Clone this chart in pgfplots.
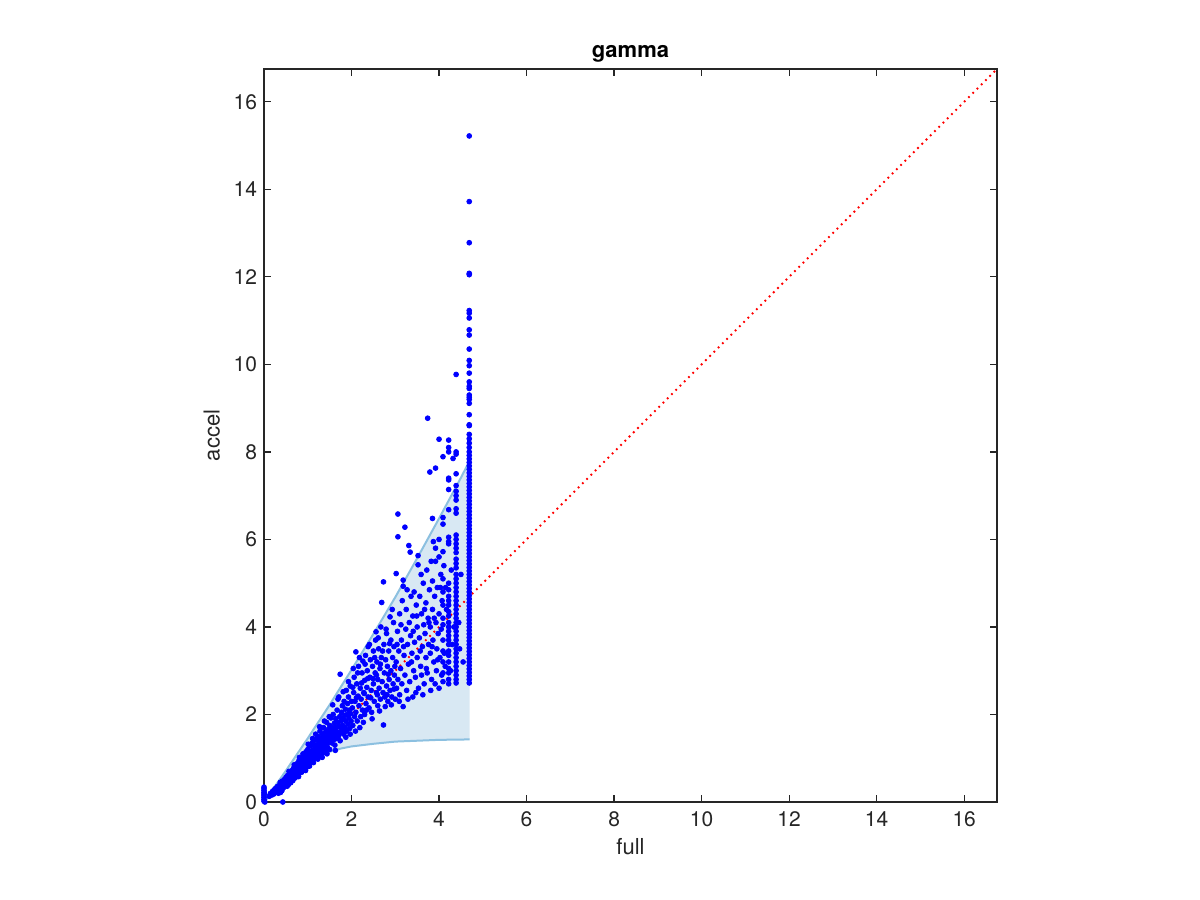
\documentclass[border=0pt]{standalone}
\usepackage{fontspec}
\setmainfont{TeX Gyre Heros}
\usepackage{pgfplots}
\pgfplotsset{compat=1.18}
\definecolor{axgray}{RGB}{38,38,38}
\definecolor{shade}{RGB}{216,232,243}
\definecolor{edge}{RGB}{140,192,224}
\begin{document}
\begin{tikzpicture}
\path[use as bounding box] (0,0) rectangle (600pt,450pt);
\begin{axis}[
  at={(132pt,49pt)}, anchor=south west, scale only axis,
  width=366.5pt, height=366.5pt,
  xmin=0, xmax=16.75, ymin=0, ymax=16.75,
  xtick={0,2,...,16}, ytick={0,2,...,16},
  tick align=inside, major tick length=3.5pt,
  axis line style={axgray, line width=0.6pt},
  tick style={axgray, line width=0.6pt},
  ticklabel style={font=\fontsize{10.5}{12}\selectfont, text=axgray},
  xticklabel style={yshift=-1.5pt},
  /pgf/number format/assume math mode=true,
  title={gamma}, title style={font=\fontsize{11}{13}\selectfont\bfseries, yshift=-6pt},
  xlabel={full}, ylabel={accel},
  label style={font=\fontsize{11}{13}\selectfont, text=axgray},
  xlabel style={yshift=1.5pt},
]
% shaded band
\addplot[fill=shade, draw=none] coordinates {
 (0,0) (0.5,0.714) (1,1.455) (1.5,2.22) (2,3.02) (2.5,3.84) (3,4.68) (3.5,5.57) (4,6.48) (4.5,7.41) (4.7,7.8)
 (4.7,1.43) (4,1.42) (3.5,1.40) (3,1.38) (2.5,1.33) (2,1.27) (1.75,1.22) (1.5,1.15) (1.25,1.06) (1,0.93) (0.75,0.74) (0.5,0.5) (0.25,0.25) (0,0)
} -- cycle;
\addplot[edge, line width=1pt] coordinates {
 (0,0) (0.5,0.714) (1,1.455) (1.5,2.22) (2,3.02) (2.5,3.84) (3,4.68) (3.5,5.57) (4,6.48) (4.5,7.41) (4.7,7.8)};
\addplot[edge, line width=1pt] coordinates {
 (0,0) (0.25,0.25) (0.5,0.5) (0.75,0.74) (1,0.93) (1.25,1.06) (1.5,1.15) (1.75,1.22) (2,1.27) (2.5,1.33) (3,1.38) (3.5,1.40) (4,1.42) (4.7,1.43)};
% scatter
\addplot[only marks, mark=*, mark size=1.2pt, color=blue, fill=blue] coordinates {
 (0,0.02) (0,0.06) (0,0.1) (0,0.14) (0,0.18) (0,0.22) (0,0.26) (0,0.3) (0,0.34) (0.01,0.2) (0.43,0.0) (0.02,0.0)
 (0.12,0.13) (0.15,0.2) (0.18,0.16) (0.2,0.25) (0.22,0.18) (0.25,0.3) (0.27,0.22) (0.3,0.27) (0.3,0.35) (0.32,0.3)
 (0.33,0.2) (0.35,0.38) (0.36,0.3) (0.38,0.34) (0.38,0.22) (0.4,0.42) (0.4,0.3) (0.42,0.36) (0.42,0.48) (0.44,0.4)
 (0.45,0.33) (0.46,0.45) (0.47,0.52) (0.48,0.38) (0.5,0.46) (0.5,0.56) (0.52,0.42) (0.52,0.5) (0.53,0.6) (0.55,0.48)
 (0.55,0.55) (0.56,0.4) (0.58,0.62) (0.58,0.52) (0.6,0.58) (0.6,0.47) (0.6,0.68) (0.62,0.55)
 (0.63,0.62) (0.64,0.72) (0.65,0.52) (0.66,0.66) (0.67,0.58) (0.68,0.78) (0.7,0.64) (0.7,0.7) (0.71,0.55) (0.72,0.82)
 (0.73,0.68) (0.74,0.75) (0.75,0.62) (0.76,0.88) (0.77,0.72) (0.78,0.8) (0.79,0.66) (0.8,0.95) (0.8,0.75) (0.82,0.85)
 (0.83,0.7) (0.84,0.92) (0.85,0.8) (0.86,1.0) (0.87,0.76) (0.88,0.88) (0.9,0.95) (0.9,0.82) (0.91,1.08) (0.92,0.74)
 (0.93,0.9) (0.94,1.0) (0.95,0.85) (0.96,1.15) (0.97,0.95) (0.98,0.8) (0.99,1.05) (1.0,0.9) (1.0,1.2) (1.02,1.0)
 (1.03,0.86) (1.04,1.1) (1.05,1.28) (1.06,0.95) (1.07,1.05) (1.08,1.15) (1.09,0.92) (1.1,1.35) (1.1,1.0) (1.12,1.2)
 (1.13,1.08) (1.14,0.98) (1.15,1.3) (1.16,1.12) (1.17,1.42) (1.18,1.05) (1.19,1.22) (1.2,1.0)
 (1.21,1.15) (1.22,1.32) (1.23,1.5) (1.24,1.08) (1.25,1.25) (1.26,1.4) (1.27,1.18) (1.28,1.62) (1.29,1.3) (1.3,1.05)
 (1.31,1.45) (1.32,1.2) (1.33,1.55) (1.34,1.35) (1.35,1.12) (1.36,1.7) (1.37,1.28) (1.38,1.48) (1.39,1.4) (1.4,1.18)
 (1.41,1.6) (1.42,1.32) (1.43,1.82) (1.44,1.5) (1.45,1.25) (1.46,1.42) (1.47,1.66) (1.48,1.36) (1.49,1.55) (1.5,1.2)
 (1.5,1.75) (1.52,1.45) (1.53,1.92) (1.54,1.6) (1.55,1.35) (1.56,1.7) (1.57,1.5) (1.58,2.0) (1.59,1.42) (1.6,1.62)
 (1.61,1.8) (1.62,1.3) (1.63,1.55) (1.64,1.9) (1.65,1.7) (1.66,1.45) (1.67,2.1) (1.68,1.6) (1.69,1.82) (1.7,1.5)
 (1.71,2.4) (1.72,1.72) (1.73,1.95) (1.74,2.92) (1.75,1.58) (1.76,1.85) (1.77,2.05) (1.78,1.65) (1.79,2.2) (1.8,1.75)
 (1.81,1.9) (1.82,1.55) (1.83,2.3) (1.84,1.98) (1.85,1.7) (1.86,2.12) (1.87,1.85) (1.88,2.55) (1.89,1.62) (1.9,2.0)
 (1.91,2.25) (1.92,1.78) (1.93,2.4) (1.94,1.92) (1.95,2.1) (1.96,1.68) (1.97,2.65) (1.98,2.02) (1.99,1.85) (2.0,2.3)
 (2.02,2.15) (2.03,1.75) (2.05,2.5) (2.06,2.85) (2.07,1.95) (2.08,2.3) (2.1,3.43) (2.1,2.05) (2.12,2.7) (2.13,1.85)
 (2.15,2.42) (2.16,3.1) (2.17,2.2) (2.18,3.3) (2.2,2.6) (2.21,1.95) (2.22,2.35) (2.24,2.95) (2.25,2.1) (2.26,3.22)
 (2.28,2.5) (2.3,2.78) (2.3,2.0) (2.32,3.35) (2.33,2.25) (2.35,2.62) (2.36,3.0) (2.38,3.55) (2.38,2.4) (2.4,2.15)
 (2.42,2.85) (2.43,3.25) (2.45,2.55) (2.46,2.05) (2.48,3.1) (2.5,2.7) (2.5,3.45) (2.52,2.3) (2.54,2.95) (2.55,3.7)
 (2.56,3.89) (2.57,2.5) (2.58,3.2) (2.6,2.2) (2.6,2.8) (2.62,3.5) (2.63,2.6) (2.65,3.05) (2.66,2.35) (2.67,4.0)
 (2.68,3.3) (2.69,4.56) (2.7,2.75) (2.72,2.5) (2.73,1.76) (2.73,5.03) (2.74,3.6) (2.75,2.95) (2.76,2.4) (2.78,3.25)
 (2.8,2.65) (2.8,3.85) (2.82,3.1) (2.83,2.3) (2.85,3.45) (2.86,2.8) (2.88,4.23) (2.88,2.55) (2.9,3.7) (2.9,3.0)
 (2.92,2.4) (2.94,3.3) (2.95,2.7) (2.96,4.1) (2.97,3.55) (2.98,2.9) (3.0,2.35)
 (3.02,5.22) (3.02,3.2) (3.03,2.6) (3.05,3.9) (3.06,6.58) (3.06,6.06) (3.06,2.8) (3.08,3.45) (3.1,4.3) (3.1,2.45)
 (3.12,3.05) (3.14,3.7) (3.15,2.7) (3.16,4.6) (3.18,5.07) (3.18,4.93) (3.18,2.18) (3.2,3.35) (3.22,6.28) (3.22,2.9)
 (3.24,3.95) (3.25,4.4) (3.26,2.55) (3.28,3.6) (3.3,3.15) (3.31,5.86) (3.32,4.1) (3.33,2.75) (3.34,5.71) (3.35,3.8)
 (3.36,4.7) (3.38,3.4) (3.4,2.4) (3.4,4.25) (3.42,3.0) (3.43,4.8) (3.44,3.65) (3.46,2.85) (3.48,4.5) (3.5,3.3)
 (3.5,4.0) (3.52,5.63) (3.52,5.42) (3.53,2.6) (3.55,3.75) (3.56,4.7) (3.58,3.1) (3.6,4.3) (3.6,2.9) (3.62,3.55)
 (3.64,5.0) (3.65,4.05) (3.66,2.7) (3.68,3.85) (3.7,4.55) (3.7,3.3) (3.72,5.3) (3.73,2.95) (3.74,8.77) (3.75,4.2)
 (3.76,3.6) (3.78,4.85) (3.79,7.54) (3.8,3.4) (3.8,4.0) (3.82,5.5) (3.83,2.8) (3.85,6.48) (3.85,5.05) (3.85,4.4)
 (3.86,3.7) (3.87,5.95) (3.88,3.2) (3.9,4.7) (3.92,7.63) (3.92,5.5) (3.92,5.8) (3.93,4.1) (3.94,3.0) (3.95,3.5)
 (3.96,4.9) (3.98,3.85) (4.0,8.29) (4.0,6.0) (4.0,5.6) (4.0,4.3) (4.0,2.6) (4.02,3.3) (4.04,5.2) (4.05,3.95) (4.07,4.6)
 (0.37,0.45) (0.41,0.26) (0.57,0.7) (0.61,0.44) (0.69,0.85) (0.74,0.58) (0.81,1.02) (0.86,0.68) (0.89,1.1) (0.95,0.72)
 (1.01,1.32) (1.04,0.82) (1.11,1.45) (1.13,0.9) (1.18,1.55) (1.23,0.98) (1.27,1.72) (1.33,1.02) (1.38,1.85) (1.44,1.1)
 (1.49,1.95) (0.53,0.36) (0.66,0.49) (0.79,0.58)
 (1.57,2.22) (1.63,1.18) (1.69,2.35) (1.74,1.4) (1.81,2.52) (1.87,1.48) (1.93,2.75) (1.97,1.55) (2.04,3.05) (2.09,1.62)
 (2.14,2.95) (2.19,1.7) (2.23,2.72) (2.27,1.82) (2.31,3.15) (2.37,2.82) (2.41,3.6) (2.44,2.38) (2.47,1.9) (2.53,3.3)
 (2.57,2.9) (2.61,3.75) (2.64,2.08) (2.71,3.45) (2.77,2.18) (2.79,3.95) (2.84,2.92) (2.87,3.62) (2.91,2.22) (2.93,4.4)
 (2.99,3.1) (2.03,2.62) (2.11,2.38) (2.29,2.48) (2.34,2.1) (2.49,2.82) (2.59,2.45) (2.66,3.15) (2.81,2.45) (2.97,2.58)
 (3.04,3.6) (3.09,2.3) (3.13,4.05) (3.19,3.55) (3.27,4.85) (3.29,2.35) (3.37,3.2) (3.41,3.9) (3.47,2.5) (3.49,4.25)
 (3.57,3.45) (3.59,5.2) (3.63,2.45) (3.67,4.4) (3.71,3.05) (3.77,4.1) (3.81,2.55) (3.84,3.55) (3.89,4.2) (3.91,2.7)
 (3.97,3.25) (4.03,4.9) (4.06,2.9) (4.11,5.4) (4.14,3.1) (4.17,4.4) (4.26,3.0) (4.34,4.0) (4.47,3.5)
 (4.09,7.89) (4.09,6.5) (4.09,6.35) (4.09,5.72) (4.09,5.1) (4.09,4.8) (4.09,4.5) (4.09,4.2) (4.09,4.05) (4.09,3.7)
 (4.09,3.45) (4.09,3.2) (4.09,2.95) (4.09,2.75)
 (4.22,8.27) (4.22,8.1) (4.22,8.0) (4.22,7.4) (4.22,7.36) (4.22,7.14) (4.22,6.68) (4.22,6.05) (4.22,5.95) (4.22,5.9)
 (4.22,5.0) (4.22,4.85) (4.22,4.7) (4.22,4.6) (4.22,4.5) (4.22,4.35) (4.22,4.25) (4.22,4.1) (4.22,4.0) (4.22,3.9)
 (4.22,3.8) (4.22,3.7) (4.22,3.6) (4.22,3.45) (4.22,3.35) (4.22,3.2) (4.22,3.05) (4.22,2.95) (4.22,2.8) (4.22,2.7)
 (4.39,9.77) (4.39,8.0) (4.39,7.95) (4.39,7.5) (4.39,7.23) (4.39,7.1) (4.39,7.0) (4.39,6.9) (4.39,6.7) (4.39,6.6)
 (4.39,6.1) (4.39,6.0) (4.39,5.9) (4.39,5.8) (4.39,5.7) (4.39,5.55) (4.39,5.45) (4.39,5.35) (4.39,5.2) (4.39,5.1)
 (4.39,5.0) (4.39,4.9) (4.39,4.8) (4.39,4.7) (4.39,4.6) (4.39,4.5) (4.39,4.4) (4.39,4.3) (4.39,4.2) (4.39,4.1)
 (4.39,4.0) (4.39,3.9) (4.39,3.8) (4.39,3.7) (4.39,3.6) (4.39,3.5) (4.39,3.4) (4.39,3.3) (4.39,3.2) (4.39,3.1)
 (4.39,3.0) (4.39,2.9) (4.39,2.8) (4.39,2.72)
 (4.15,4.9) (4.28,5.3) (4.3,3.6) (4.45,4.1) (4.5,5.2) (4.55,3.2) (4.32,7.85) (4.12,3.4)
 (4.69,15.22) (4.69,13.72) (4.69,12.78) (4.69,12.08) (4.69,12.05) (4.69,11.23) (4.69,11.17) (4.69,11.06) (4.69,10.79)
 (4.69,10.67) (4.69,10.35) (4.69,10.09) (4.69,9.97) (4.69,9.8) (4.69,9.6) (4.69,9.5) (4.69,9.45) (4.69,9.3) (4.69,9.25)
 (4.69,9.2) (4.69,9.11) (4.69,8.85) (4.69,8.62) (4.69,8.6) (4.69,8.4) (4.69,8.3) (4.69,8.2) (4.69,8.1) (4.69,8.0)
 (4.69,7.92) (4.69,7.84) (4.69,7.76) (4.69,7.68) (4.69,7.6) (4.69,7.52) (4.69,7.44) (4.69,7.36) (4.69,7.28) (4.69,7.2)
 (4.69,7.12) (4.69,7.04) (4.69,6.96) (4.69,6.88) (4.69,6.8) (4.69,6.72) (4.69,6.64) (4.69,6.56) (4.69,6.48) (4.69,6.4)
 (4.69,6.32) (4.69,6.24) (4.69,6.16) (4.69,6.08) (4.69,6.0) (4.69,5.92) (4.69,5.84) (4.69,5.76) (4.69,5.68) (4.69,5.6)
 (4.69,5.52) (4.69,5.44) (4.69,5.36) (4.69,5.28) (4.69,5.2) (4.69,5.12) (4.69,5.04) (4.69,4.96) (4.69,4.88) (4.69,4.8)
 (4.69,4.72) (4.69,4.64) (4.69,4.56) (4.69,4.48) (4.69,4.4) (4.69,4.32) (4.69,4.24) (4.69,4.16) (4.69,4.08) (4.69,4.0)
 (4.69,3.92) (4.69,3.84) (4.69,3.76) (4.69,3.68) (4.69,3.6) (4.69,3.52) (4.69,3.44) (4.69,3.36) (4.69,3.28) (4.69,3.2)
 (4.69,3.12) (4.69,3.04) (4.69,2.96) (4.69,2.88) (4.69,2.8) (4.69,2.72)
};
% diagonal
\addplot[red, line width=0.9pt, dash pattern=on 0.9pt off 2.1pt] coordinates {(0,0) (16.75,16.75)};
\end{axis}
\end{tikzpicture}
\end{document}
